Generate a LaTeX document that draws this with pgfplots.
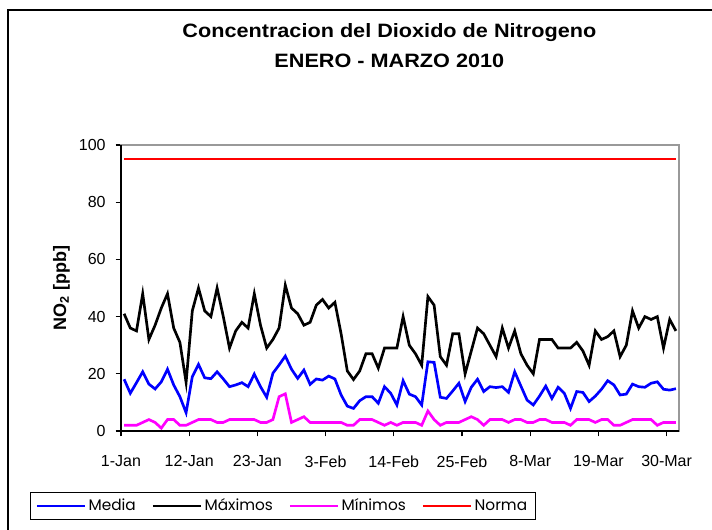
\documentclass[border=0pt]{standalone}
\usepackage{fontspec}
\setmainfont{Liberation Sans}
\newfontfamily\titlefont[FakeStretch=1.12]{Liberation Sans}
\newfontfamily\legfont{Poppins}
\usepackage{pgfplots}
\usepackage{pgfplotstable}
\pgfplotsset{compat=1.18}
\definecolor{cblue}{RGB}{0,0,255}
\definecolor{cmag}{RGB}{255,0,255}
\definecolor{cred}{RGB}{255,0,0}
\pgfplotstableread{
d media maxi mini
0 18.1 41 2
1 13.2 36 2
2 16.9 35 2
3 20.7 48 3
4 16.4 32 4
5 14.7 37 3
6 17.2 43 1
7 21.6 48 4
8 16.1 36 4
9 12.0 31 2
10 6.4 17 2
11 19.0 42 3
12 23.3 50 4
13 18.6 42 4
14 18.3 40 4
15 20.7 50 3
16 18.2 40 3
17 15.5 29 4
18 16.1 35 4
19 16.9 38 4
20 15.5 36 4
21 19.9 48 4
22 15.5 37 3
23 11.8 29 3
24 20.2 32 4
25 23.1 36 12
26 26.2 51 13
27 21.6 43 3
28 18.4 41 4
29 21.3 37 5
30 16.3 38 3
31 18.2 44 3
32 17.8 46 3
33 19.2 43 3
34 18.2 45 3
35 12.6 34 3
36 8.7 21 2
37 7.9 18 2
38 10.6 21 4
39 12.0 27 4
40 12.0 27 4
41 9.7 22 3
42 15.5 29 2
43 13.2 29 3
44 9.1 29 2
45 17.6 40 3
46 12.9 30 3
47 12.0 27 3
48 9.1 23 2
49 24.2 47 7
50 24.0 44 4
51 11.8 26 2
52 11.4 23 3
53 14.0 34 3
54 16.7 34 3
55 10.3 20 4
56 15.3 28 5
57 18.1 36 4
58 13.8 34 2
59 15.5 30 4
60 15.2 26 4
61 15.5 36 4
62 13.5 29 3
63 20.7 35 4
64 15.7 27 4
65 10.8 23 3
66 9.1 20 3
67 12.2 32 4
68 15.7 32 4
69 11.4 32 3
70 15.3 29 3
71 13.2 29 3
72 7.9 29 2
73 13.8 31 4
74 13.5 28 4
75 10.3 23 4
76 12.2 35 3
77 14.6 32 4
78 17.6 33 4
79 16.1 35 2
80 12.6 26 2
81 12.9 30 3
82 16.4 42 4
83 15.5 36 4
84 15.3 40 4
85 16.7 39 4
86 17.2 40 2
87 14.6 29 3
88 14.3 39 3
89 14.8 35 3
}\datatable
\begin{document}
\begin{tikzpicture}[x=1pt,y=1pt]
\useasboundingbox (0,0) rectangle (534,396.75);
\draw[black, line width=0.8pt] (6,-10) -- (6,389.25) -- (545,389.25);
\node[font=\titlefont\bfseries\fontsize{14.5}{22.5}\selectfont, align=center] at (292,362.5) {Concentracion del Dioxido de Nitrogeno\\ENERO - MARZO 2010};
\begin{axis}[
  at={(90.75pt,73.5pt)}, anchor=south west,
  scale only axis, width=418.5pt, height=214.5pt,
  xmin=0, xmax=90, ymin=0, ymax=100,
  xtick={0,11,22,33,44,55,66,77,88},
  xticklabels={1-Jan,12-Jan,23-Jan,3-Feb,14-Feb,25-Feb,8-Mar,19-Mar,30-Mar},
  ytick={0,20,40,60,80,100},
  xtick pos=bottom, ytick pos=left,
  tick align=outside, major tick length=4pt,
  tick style={black, line width=0.8pt},
  axis line style={draw=gray!80, line width=1.2pt},
  tick label style={font=\fontsize{12}{14}\selectfont},
  /pgf/number format/assume math mode=true,
  xticklabel style={yshift=-11pt},
  yticklabel style={xshift=-4pt},
  ylabel={\bfseries NO\textsubscript{2} [ppb]},
  ylabel style={font=\fontsize{13.5}{15}\selectfont, yshift=0pt},
  legend columns=4,
  legend style={at={(-0.163,-0.213)}, anchor=north west, draw=black, line width=0.6pt,
    font=\legfont\fontsize{11.5}{13}\selectfont, inner ysep=3pt, inner xsep=4pt,
    /tikz/every even column/.append style={column sep=10pt}},
  legend image code/.code={\draw[#1, line width=1.6pt] (0pt,0pt) -- (36pt,0pt);},
  clip=false,
]
\addplot[cblue, line width=2pt] table[x expr=\thisrow{d}+0.5, y=media] {\datatable};
\addlegendentry{Media}
\addplot[black, line width=2pt] table[x expr=\thisrow{d}+0.5, y=maxi] {\datatable};
\addlegendentry{Máximos}
\addplot[cmag, line width=2pt] table[x expr=\thisrow{d}+0.5, y=mini] {\datatable};
\addlegendentry{Mínimos}
\addplot[cred, line width=1.6pt] coordinates {(0.5,95) (89.5,95)};
\addlegendentry{Norma}
\draw[black, line width=0.8pt] (rel axis cs:0,1) -- (rel axis cs:0,0) -- (rel axis cs:1,0);
\end{axis}
\end{tikzpicture}
\end{document}
